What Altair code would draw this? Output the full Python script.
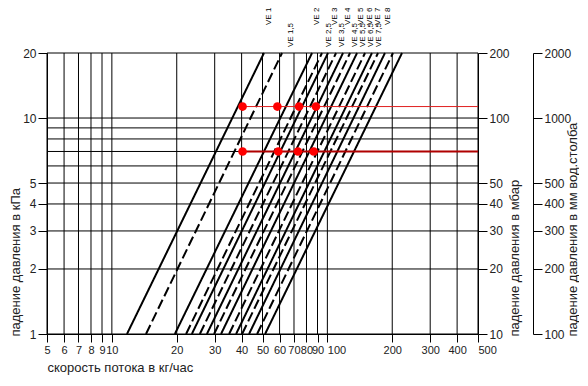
import altair as alt
import pandas as pd

# ---- data ----
ve_names = ["VE 1", "VE 1,5", "VE 2", "VE 2,5", "VE 3", "VE 3,5", "VE 4", "VE 4,5",
            "VE 5", "VE 5,5", "VE 6", "VE 6,5", "VE 7", "VE 7,5", "VE 8"]
# flow (kg/h) where each line crosses 1 kPa and 20 kPa
q_at_1kpa = [11.75, 14.4, 19.6, 22.1, 23.5, 25.6, 27.6, 29.8, 32.1, 35.0, 37.7, 40.2, 43.3, 47.2, 51.4]
q_at_20kpa = [50.8, 61.6, 84.9, 94.4, 100.7, 109.7, 118.2, 127.4, 137.3, 149.5, 161.0, 171.8, 185.0, 201.6, 222.0]
# label anchor (kg/h) of each VE name above the plot
label_x = [53.6, 67.8, 89.5, 101.8, 108.5, 116.9, 124.7, 134.4, 143.3, 146.4, 157.6, 159.3, 171.8, 173.6, 191.1]

x_ticks = [5, 6, 7, 8, 9, 10, 20, 30, 40, 50, 60, 70, 80, 90, 100, 200, 300, 400, 500]
y_grid = [1, 2, 3, 4, 5, 6, 7, 8, 9, 10, 20]
y_ticks = [1, 2, 3, 4, 5, 10, 20]

red_levels = [11.3, 7.0]
red_start = [40, 40]
red_end = [500, 500]
red_colors = ["#e02020", "#b00000"]
red_widths = [1, 2]
dots_x = [40.4, 58.6, 73.9, 88.5, 40.4, 59.2, 73.0, 86.4]
dots_y = [11.3, 11.3, 11.3, 11.3, 7.0, 7.0, 7.0, 7.0]

FONT = "Liberation Sans"
TXT = "#222222"

# ---- tables ----
rows = []
for i, n in enumerate(ve_names):
    style = "dash" if "," in n else "solid"
    rows.append({"ve": n, "q": q_at_1kpa[i], "dp": 1, "style": style})
    rows.append({"ve": n, "q": q_at_20kpa[i], "dp": 20, "style": style})
lines_df = pd.DataFrame(rows)
vgrid_df = pd.DataFrame({"x": x_ticks})
hgrid_df = pd.DataFrame({"y": y_grid})
red_df = pd.DataFrame({"x": red_start, "x2": red_end, "y": red_levels,
                       "c": red_colors, "w": red_widths})
dots_df = pd.DataFrame({"x": dots_x, "y": dots_y})
lab_df = pd.DataFrame({"name": ve_names, "x": label_x,
                       "half": ["," in n for n in ve_names]})

xs = alt.Scale(type="log", domain=[5, 500], nice=False)
ys = alt.Scale(type="log", domain=[1, 20], nice=False)

x_axis = alt.Axis(orient="bottom", values=x_ticks, format="d", grid=False, tickSize=8,
                  tickColor="black", domainColor="black", labelColor=TXT, labelFontSize=11,
                  labelFont=FONT, labelPadding=2, labelOverlap=False, labelFlush=False,
                  labelBound=False,
                  labelAlign={"condition": {"test": "datum.value == 100 || datum.value == 500",
                                            "value": "left"}, "value": "center"},
                  title="скорость потока в кг/час", titleFont=FONT, titleFontWeight="normal",
                  titleFontSize=13, titleColor=TXT, titleX=0, titleY=33, titleAlign="left",
                  titleBaseline="middle", titleAngle=0)

def y_axis(orient, title, expr, title_x, offset=0):
    return alt.Axis(orient=orient, values=y_ticks, grid=False, tickSize=9,
                    tickColor="black", domainColor="black", labelColor=TXT, labelFontSize=12,
                    labelFont=FONT, labelPadding=2, labelOverlap=False, labelFlush=False,
                    labelExpr=expr, offset=offset, title=title, titleFont=FONT,
                    titleFontWeight="normal", titleFontSize=13, titleColor=TXT,
                    titleAngle=270, titleX=title_x, titleY=283, titleAlign="left",
                    titleBaseline="middle")

vgrid = alt.Chart(vgrid_df).mark_rule(color="black", strokeWidth=1).encode(
    x=alt.X("x:Q", scale=xs, axis=x_axis))

hgrid_left = alt.Chart(hgrid_df).mark_rule(color="black", strokeWidth=1).encode(
    y=alt.Y("y:Q", scale=ys, axis=y_axis("left", "падение давления в кПа",
                                         "datum.label", -32)))
hgrid_mbar = alt.Chart(hgrid_df).mark_rule(opacity=0).encode(
    y=alt.Y("y:Q", scale=ys, axis=y_axis("right", "падение давления в мбар",
                                         "format(datum.value*10, 'd')", 36)))
hgrid_mm = alt.Chart(hgrid_df).mark_rule(opacity=0).encode(
    y=alt.Y("y:Q", scale=ys, axis=y_axis("right", "падение давления в мм вод.столба",
                                         "format(datum.value*100, 'd')", 39, offset=55)))

lines = alt.Chart(lines_df).mark_line(color="black", strokeWidth=2).encode(
    x=alt.X("q:Q", scale=xs, axis=None),
    y=alt.Y("dp:Q", scale=ys, axis=None),
    detail="ve:N",
    strokeDash=alt.StrokeDash("style:N", scale=alt.Scale(domain=["solid", "dash"],
                                                          range=[[1, 0], [10, 4]]), legend=None))

red = alt.Chart(red_df).mark_rule().encode(
    x=alt.X("x:Q", scale=xs, axis=None), x2="x2:Q",
    y=alt.Y("y:Q", scale=ys, axis=None),
    color=alt.Color("c:N", scale=None),
    strokeWidth=alt.StrokeWidth("w:Q", scale=None))

dots = alt.Chart(dots_df).mark_circle(color="#ff0000", opacity=1, size=75).encode(
    x=alt.X("x:Q", scale=xs, axis=None), y=alt.Y("y:Q", scale=ys, axis=None))

lab_int = alt.Chart(lab_df).transform_filter("!datum.half").mark_text(
    angle=270, align="left", baseline="middle", fontSize=8, font=FONT, color="black").encode(
    x=alt.X("x:Q", scale=xs, axis=None), y=alt.value(-28), text="name:N")
lab_half = alt.Chart(lab_df).transform_filter("datum.half").mark_text(
    angle=270, align="left", baseline="middle", fontSize=8, font=FONT, color="black").encode(
    x=alt.X("x:Q", scale=xs, axis=None), y=alt.value(-6), text="name:N")

chart = alt.layer(vgrid, hgrid_left, hgrid_mbar, hgrid_mm, lines, red, dots, lab_int, lab_half
).resolve_axis(x="independent", y="independent").properties(
    width=431, height=281,
    padding={"left": 39, "top": 45, "right": 101, "bottom": 44},
    autosize=alt.AutoSizeParams(type="none"),
    background="white"
).configure_view(strokeWidth=0)

chart.save("out.html", embed_options={"renderer": "svg", "actions": False})
